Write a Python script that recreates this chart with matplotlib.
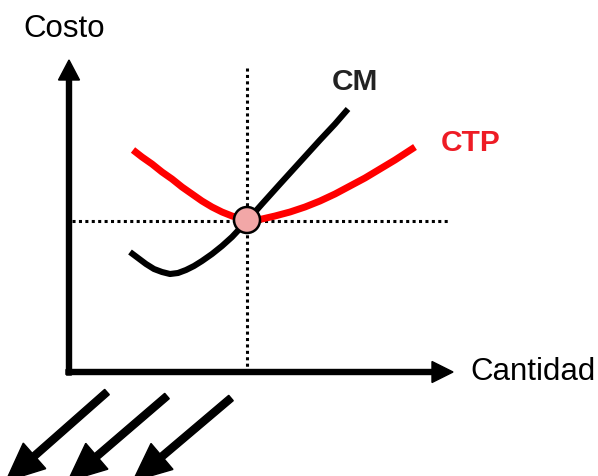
import matplotlib

matplotlib.use("Agg")
import matplotlib.pyplot as plt
from matplotlib.patches import Circle

# Diagram drawn in pixel units of the 598x476 canvas (y grows downward).
W, H = 598, 476

# Curves: (x, y) pixel positions.
ctp_x = [133, 142, 152, 162, 172, 182, 192, 202, 212, 222, 232, 242, 252, 262,
         275, 290, 305, 320, 335, 350, 365, 380, 395, 415]
ctp_y = [150, 157, 164, 172, 179, 187, 194, 201, 207, 212, 216, 219, 220, 219,
         216, 212, 207, 201, 194, 186, 178, 169, 160, 147]

cm_x = [130, 138, 146, 154, 162, 170, 178, 186, 194, 202, 212, 222, 232, 247,
        262, 280, 300, 320, 335, 348]
cm_y = [252, 258, 264, 269, 272, 274, 273, 270, 266, 261, 254, 246, 237, 221,
        204, 184, 162, 140, 124, 109]

# Equilibrium point (where CM crosses CTP)
eq_x, eq_y = 247, 220

# Decorative arrows under the x axis: start and tip.
deco_start = [(107, 392), (167, 396), (231, 398)]
deco_tip = [(6, 481), (68, 481), (133, 481)]

plt.rcParams["font.family"] = ["Liberation Sans", "DejaVu Sans"]

fig = plt.figure(figsize=(W / 100, H / 100), dpi=100)
ax = fig.add_axes([0, 0, 1, 1])
ax.set_xlim(0, W)
ax.set_ylim(H, 0)
ax.axis("off")

# axes with arrow heads
ax.arrow(69, 375, 0, -315, width=5, head_width=21, head_length=20,
         length_includes_head=True, color="black", zorder=3)
ax.arrow(66, 372, 387, 0, width=5, head_width=21, head_length=21,
         length_includes_head=True, color="black", zorder=3)

# dotted guides
ax.plot([eq_x, eq_x], [68, 372], color="black", lw=2.2, linestyle=(0, (1, 1.1)), zorder=1)
ax.plot([72, 450], [eq_y + 1, eq_y + 1], color="black", lw=2.2, linestyle=(0, (1, 1.1)), zorder=1)

ax.plot(ctp_x, ctp_y, color="#ff0000", lw=5.0, solid_capstyle="butt",
        solid_joinstyle="round", zorder=2)
ax.plot(cm_x, cm_y, color="black", lw=4.4, solid_capstyle="butt",
        solid_joinstyle="round", zorder=2)

ax.add_patch(Circle((eq_x, eq_y), 13, facecolor="#f2a7a7", edgecolor="black", lw=1.8, zorder=4))

for (x0, y0), (x1, y1) in zip(deco_start, deco_tip):
    ax.arrow(x0, y0, x1 - x0, y1 - y0, width=7, head_width=34, head_length=38,
             length_includes_head=True, color="black", zorder=3)

ax.text(64, 29, "Costo", fontsize=22.5, ha="center", va="center")
ax.text(470, 372, "Cantidad", fontsize=22.5, ha="left", va="center")
ax.text(355, 82, "CM", fontsize=21.5, fontweight="bold", color="#222222", ha="center", va="center")
ax.text(471, 143, "CTP", fontsize=21.5, fontweight="bold", color="#ee1c25", ha="center", va="center")

fig.savefig("out.png", dpi=100)
plt.close(fig)
